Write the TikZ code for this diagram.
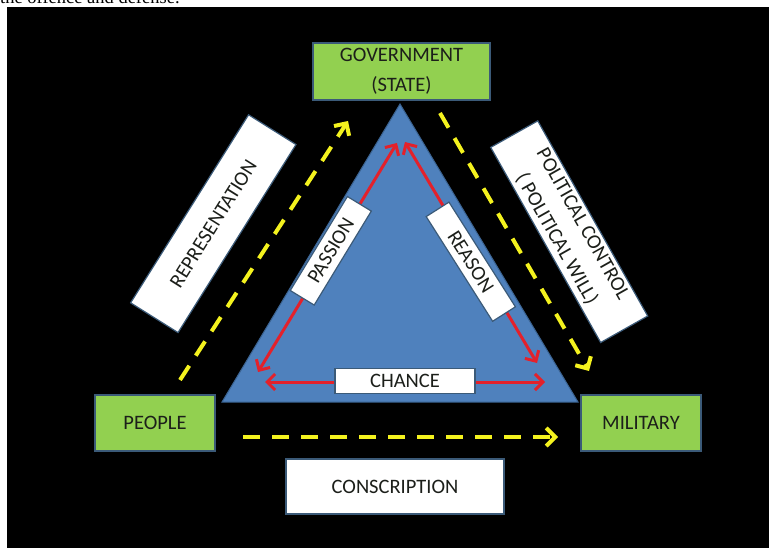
\documentclass[tikz,border=0pt]{standalone}
\usepackage{fontspec}
\setmainfont{Carlito}
\newfontfamily\serifx{Liberation Serif}
\usetikzlibrary{arrows.meta}
\definecolor{boxgreen}{HTML}{92D050}
\definecolor{triblue}{HTML}{4F81BD}
\definecolor{triedge}{HTML}{3A6290}
\definecolor{boxedge}{HTML}{3B5A78}
\definecolor{dashyellow}{HTML}{F4F21E}
\definecolor{arrowred}{HTML}{E3212B}
\definecolor{textdark}{HTML}{1C1F1A}
\tikzset{
  lbl/.style={font=\fontsize{20.5}{30}\selectfont, text=textdark, align=center, inner sep=0pt},
  greenbox/.style={lbl, fill=boxgreen, draw=boxedge, line width=1.5pt},
  whitebox/.style={lbl, fill=white, draw=boxedge, line width=1.2pt},
  yellowarrow/.style={draw=dashyellow, line width=4pt, dash pattern=on 17pt off 12pt,
    -{Straight Barb[length=9pt,width=18pt,line width=4pt]}},
  redarrow/.style={draw=arrowred, line width=3pt,
    {Straight Barb[length=8pt,width=16pt,line width=3pt]}-{Straight Barb[length=8pt,width=16pt,line width=3pt]}}
}
\begin{document}
\begin{tikzpicture}[x=1pt,y=-1pt]
\useasboundingbox (0,0) rectangle (769,548);
\fill[white] (0,0) rectangle (769,548);
\begin{scope}
\clip (0,0) rectangle (769,7);
\node[anchor=base west, inner sep=0pt, font=\serifx\fontsize{18.5}{22}\selectfont] (toptext) at (0,3.5) {the offence and defense.};
\end{scope}
\fill[black] (7,7) rectangle (769,548);

% triangle
\coordinate (apex) at (400,104);
\coordinate (bl) at (222,402);
\coordinate (br) at (578,402);
\fill[triblue, draw=triedge, line width=1pt] (apex) -- (br) -- (bl) -- cycle;

% red arrows
\coordinate (pa1) at (258,372);
\coordinate (pa2) at (397,143);
\coordinate (re1) at (405,142);
\coordinate (re2) at (537,363);
\coordinate (ch1) at (265,382);
\coordinate (ch2) at (545,382);
\draw[redarrow] (pa1) -- (pa2);
\draw[redarrow] (re1) -- (re2);
\draw[redarrow] (ch1) -- (ch2);

% yellow dashed arrows
\coordinate (ys1) at (180,380);
\coordinate (ye1) at (348,121);
\coordinate (ys2) at (440,113);
\coordinate (ye2) at (589,371);
\coordinate (ys3) at (243,437);
\coordinate (ye3) at (558,437);
\draw[yellowarrow] (ys1) -- (ye1);
\draw[yellowarrow] (ys2) -- (ye2);
\draw[yellowarrow] (ys3) -- (ye3);

% main boxes
\node[greenbox, minimum width=177pt, minimum height=57pt] (gov) at (401.5,71.5) {GOVERNMENT\\(STATE)};
\node[greenbox, minimum width=120pt, minimum height=56pt] (people) at (155,423) {PEOPLE};
\node[greenbox, minimum width=120pt, minimum height=56pt] (military) at (641,423) {MILITARY};
\node[whitebox, minimum width=218pt, minimum height=55pt] (conscription) at (395,486.5) {CONSCRIPTION};

% rotated label boxes
\node[whitebox, minimum width=222pt, minimum height=56pt, rotate=57.9] (representation) at (213.3,223.7) {REPRESENTATION};
\node[whitebox, minimum width=224pt, minimum height=54pt, rotate=-60.6] (political) at (569.2,231.7) {POLITICAL CONTROL\\( POLITICAL WILL)};
\node[whitebox, minimum width=110pt, minimum height=28pt, rotate=58.7] (passion) at (330.8,250.8) {PASSION};
\node[whitebox, minimum width=124pt, minimum height=27pt, rotate=-57.6] (reason) at (470.8,261.7) {REASON};
\node[whitebox, minimum width=140pt, minimum height=25pt] (chance) at (405,380.8) {CHANCE};
\end{tikzpicture}
\end{document}
